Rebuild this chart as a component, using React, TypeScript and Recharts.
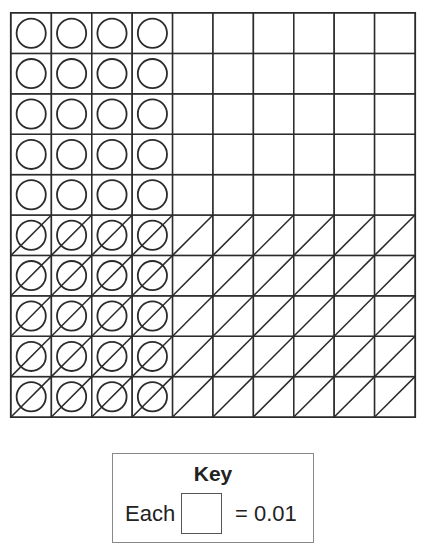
import { ScatterChart, Scatter, XAxis, YAxis, ReferenceArea } from 'recharts';

// 10 x 10 hundredths grid
const COLUMNS = [0, 1, 2, 3, 4, 5, 6, 7, 8, 9];
const ROWS = [0, 1, 2, 3, 4, 5, 6, 7, 8, 9]; // 0 = bottom row
const UNIT = 0.01;
const CIRCLED = 0.4; // first 4 columns circled
const HATCHED = 0.5; // bottom 5 rows hatched
const KEY_LABEL = 'Key';
const KEY_VALUE = '= 0.01';

const circledCols = Math.round(CIRCLED / UNIT / COLUMNS.length);
const hatchedRows = Math.round(HATCHED / UNIT / ROWS.length);

const cells = ROWS.flatMap(r =>
  COLUMNS.map(c => ({
    x: c + 0.5,
    y: r + 0.5,
    circle: c < circledCols,
    hatch: r < hatchedRows,
  }))
);

const W = 426;
const H = 430;
const M = { top: 13, right: 11, bottom: 13, left: 11 };
const CELL = (W - M.left - M.right) / COLUMNS.length;
const INK = '#2b2b2b';

function CellShape(props: any) {
  const { cx, cy, payload } = props;
  const h = CELL / 2;
  return (
    <g>
      <rect x={cx - h} y={cy - h} width={CELL} height={CELL} fill="#fff" stroke={INK} strokeWidth={1.5} />
      {payload.circle && <circle cx={cx} cy={cy} r={14.6} fill="none" stroke={INK} strokeWidth={1.8} />}
      {payload.hatch && <line x1={cx - h} y1={cy + h} x2={cx + h} y2={cy - h} stroke={INK} strokeWidth={1.5} />}
    </g>
  );
}

export default function App() {
  return (
    <div style={{ position: 'absolute', left: 0, top: 0, width: W, height: 557, background: '#fff', fontFamily: '"Liberation Sans", Arial, sans-serif', color: '#222' }}>
      <ScatterChart width={W} height={H} margin={M}>
        <XAxis type="number" dataKey="x" domain={[0, 10]} hide />
        <YAxis type="number" dataKey="y" domain={[0, 10]} hide />
        <Scatter data={cells} shape={CellShape} isAnimationActive={false} />
        <ReferenceArea x1={0} x2={10} y1={0} y2={10} fill="none" fillOpacity={0} stroke={INK} strokeWidth={2.2} ifOverflow="visible" />
      </ScatterChart>
      <div style={{ position: 'absolute', left: 112, top: 453, width: 202, height: 90, boxSizing: 'border-box', border: '1px solid #888' }} />
      <span style={{ position: 'absolute', left: 112, width: 202, top: 463, fontSize: 21, lineHeight: '21px', fontWeight: 'bold', textAlign: 'center' }}>{KEY_LABEL}</span>
      <span style={{ position: 'absolute', left: 125, top: 503, fontSize: 22, lineHeight: '22px' }}>Each</span>
      <div style={{ position: 'absolute', left: 181, top: 493, width: 41, height: 41, boxSizing: 'border-box', border: '1px solid #555' }} />
      <span style={{ position: 'absolute', left: 235, top: 503, fontSize: 22, lineHeight: '22px' }}>{KEY_VALUE}</span>
    </div>
  );
}
